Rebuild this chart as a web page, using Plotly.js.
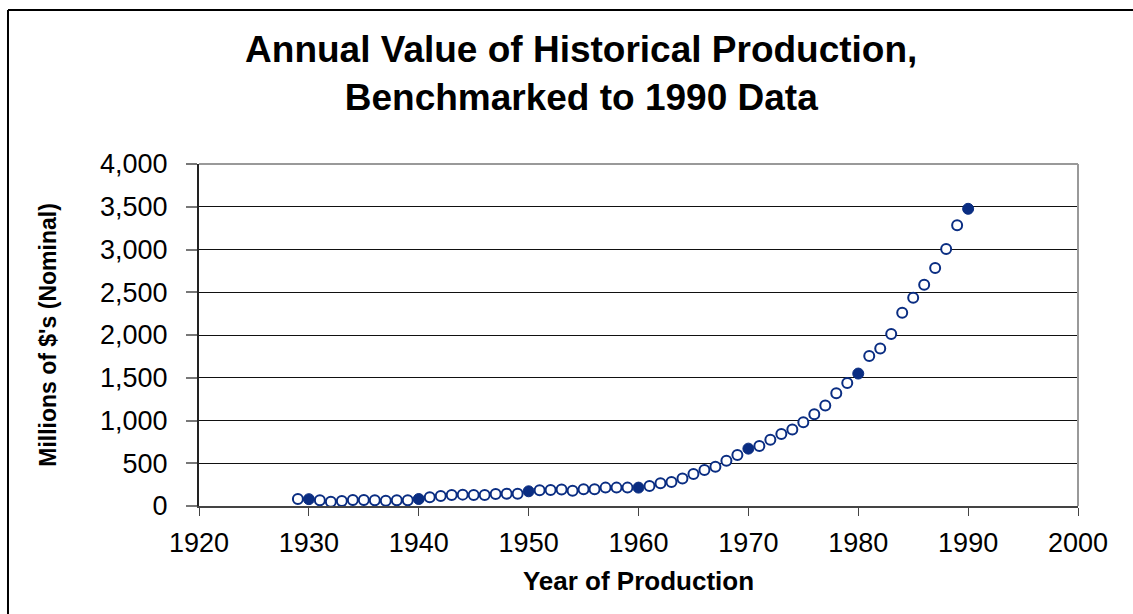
<!DOCTYPE html>
<html>
<head>
<meta charset="utf-8">
<script src="https://cdn.plot.ly/plotly-3.0.1.min.js"></script>
<style>
  html, body { margin: 0; padding: 0; background: #fff; }
  #chart { width: 1133px; height: 614px; }
</style>
</head>
<body>
<div id="chart"></div>
<script>
// Annual value of production, millions of nominal dollars
const years = [
  1929, 1930, 1931, 1932, 1933, 1934, 1935, 1936, 1937, 1938, 1939,
  1940, 1941, 1942, 1943, 1944, 1945, 1946, 1947, 1948, 1949,
  1950, 1951, 1952, 1953, 1954, 1955, 1956, 1957, 1958, 1959,
  1960, 1961, 1962, 1963, 1964, 1965, 1966, 1967, 1968, 1969,
  1970, 1971, 1972, 1973, 1974, 1975, 1976, 1977, 1978, 1979,
  1980, 1981, 1982, 1983, 1984, 1985, 1986, 1987, 1988, 1989,
  1990
];
const values = [
  82, 80, 66, 50, 58, 70, 70, 66, 62, 66, 66,
  82, 101, 117, 129, 133, 129, 129, 140, 144, 144,
  172, 183, 187, 194, 178, 196, 196, 215, 215, 215,
  215, 235, 267, 282, 321, 373, 420, 459, 529, 596,
  671, 702, 776, 843, 894, 980, 1074, 1176, 1318, 1439,
  1549, 1754, 1841, 2013, 2259, 2435, 2588, 2784, 3007, 3284,
  3476
];
// Benchmark years shown as filled markers
const benchmarkYears = [1930, 1940, 1950, 1960, 1970, 1980, 1990];

const xTicks = [1920, 1930, 1940, 1950, 1960, 1970, 1980, 1990, 2000];
const yTicks = [0, 500, 1000, 1500, 2000, 2500, 3000, 3500, 4000];
const yTickText = ["0", "500", "1,000", "1,500", "2,000", "2,500", "3,000", "3,500", "4,000"];

const navy = "#0a2d82";
const openX = [], openY = [], fillX = [], fillY = [];
years.forEach((yr, i) => {
  if (benchmarkYears.includes(yr)) { fillX.push(yr); fillY.push(values[i]); }
  else { openX.push(yr); openY.push(values[i]); }
});

const traces = [
  {
    x: openX, y: openY, type: "scatter", mode: "markers",
    marker: { symbol: "circle", size: 10, color: "#ffffff", line: { color: navy, width: 2 } },
    hoverinfo: "x+y", showlegend: false
  },
  {
    x: fillX, y: fillY, type: "scatter", mode: "markers",
    marker: { symbol: "circle", size: 11, color: navy, line: { color: navy, width: 1 } },
    hoverinfo: "x+y", showlegend: false
  }
];

const font = "Liberation Sans, Arial, sans-serif";
const layout = {
  width: 1133, height: 614,
  paper_bgcolor: "#ffffff", plot_bgcolor: "#ffffff",
  margin: { l: 199, r: 55, t: 164, b: 108 },
  font: { family: font, color: "#000" },
  title: {
    text: "<b>Annual Value of Historical Production,<br>Benchmarked to 1990 Data</b>",
    font: { family: font, size: 37, color: "#000" },
    x: 0.513, xanchor: "center", xref: "container",
    y: 0.899, yanchor: "top", yref: "container"
  },
  xaxis: {
    range: [1920, 2000], tickvals: xTicks, ticktext: xTicks.map(String),
    showgrid: false, zeroline: false,
    showline: true, linecolor: "#444", linewidth: 2,
    ticks: "outside", ticklen: 8, tickcolor: "#444", tickwidth: 1,
    ticklabelstandoff: 4,
    tickfont: { family: font, size: 27, color: "#000" },
    title: { text: "<b>Year of Production</b>", font: { family: font, size: 26, color: "#000" }, standoff: 14 },
    fixedrange: true
  },
  yaxis: {
    range: [0, 4000], tickvals: yTicks, ticktext: yTickText,
    showgrid: true, gridcolor: "#111", gridwidth: 1,
    zeroline: false, showline: true, linecolor: "#222", linewidth: 2,
    ticks: "outside", ticklen: 11, tickcolor: "#777", tickwidth: 2,
    ticklabelstandoff: 13,
    tickfont: { family: font, size: 27, color: "#000" },
    title: { text: "<b>Millions of $'s (Nominal)</b>", font: { family: font, size: 23, color: "#000" }, standoff: 37 },
    fixedrange: true
  },
  shapes: [
    // plot-area border on top and right (gray, as in the reference)
    { type: "line", xref: "paper", yref: "paper", x0: 0, x1: 1, y0: 1, y1: 1, line: { color: "#999", width: 2 } },
    { type: "line", xref: "paper", yref: "paper", x0: 1, x1: 1, y0: 0, y1: 1, line: { color: "#999", width: 2 } },
    // outer chart frame (left and top visible)
    { type: "line", xref: "paper", yref: "paper", x0: -0.2173, x1: 1.07, y0: 1.450, y1: 1.450, line: { color: "#000", width: 2 } },
    { type: "line", xref: "paper", yref: "paper", x0: -0.2173, x1: -0.2173, y0: -0.33, y1: 1.450, line: { color: "#000", width: 2 } }
  ],
  showlegend: false
};

Plotly.newPlot("chart", traces, layout, { displayModeBar: false, staticPlot: true });
</script>
</body>
</html>
